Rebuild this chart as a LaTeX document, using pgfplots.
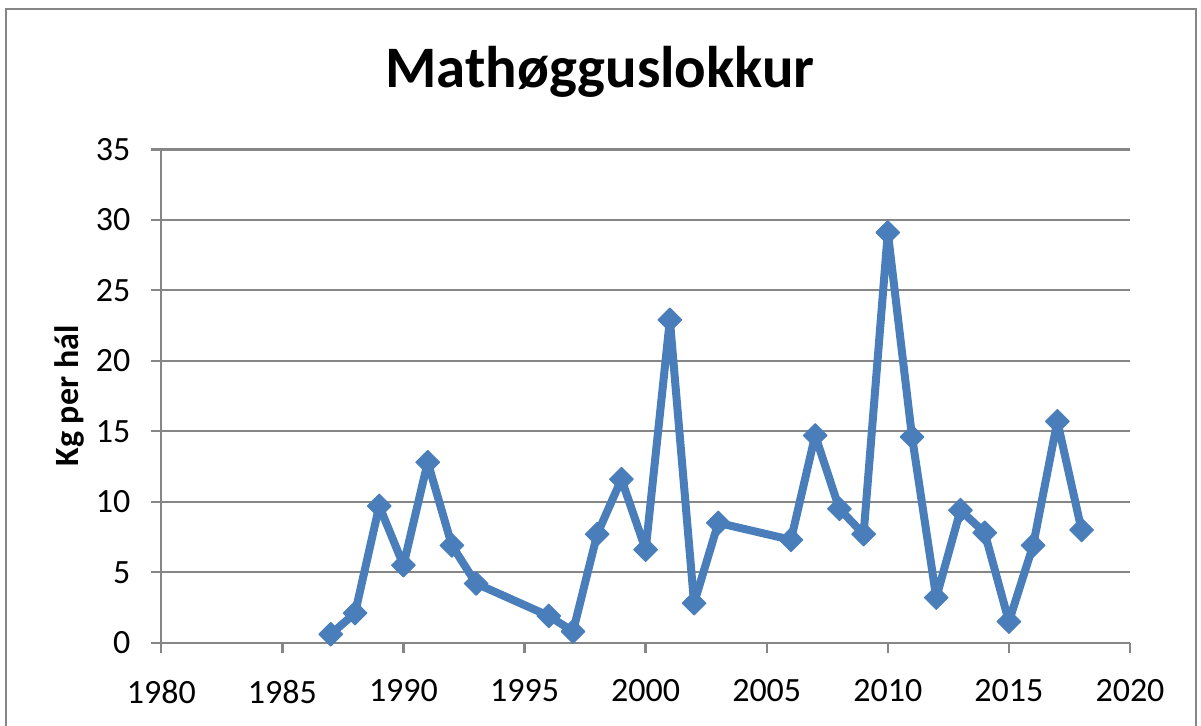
\documentclass[border=0pt]{standalone}
\usepackage{pgfplots}
\pgfplotsset{compat=1.18}
\usepackage{fontspec}
\setmainfont{Carlito}
\definecolor{gridgray}{RGB}{134,134,134}
\definecolor{xlblue}{RGB}{74,126,187}
\begin{document}
\begin{tikzpicture}
\useasboundingbox (0,0) rectangle (600.5pt,-362.5pt);
\draw[gridgray, line width=1.2pt] (3pt,-4.5pt) rectangle (598pt,-380pt);
\begin{axis}[
  at={(80.65pt,-321.35pt)}, anchor=south west,
  scale only axis, width=484.35pt, height=246.7pt,
  xmin=1980, xmax=2020, ymin=0, ymax=35,
  xtick={1980,1985,...,2020}, ytick={0,5,...,35},
  axis x line=bottom, axis y line=left,
  axis line style={gridgray, line width=1.2pt, -},
  tick style={gridgray, line width=1.2pt},
  tick align=outside, major tick length=5pt,
  ymajorgrids, grid style={gridgray, line width=1.2pt},
  xticklabel style={font=\fontsize{17}{20}\selectfont, yshift=-10pt},
  yticklabel style={font=\fontsize{17}{20}\selectfont, xshift=-7pt},
  /pgf/number format/assume math mode=true,
  /pgf/number format/1000 sep={},
  ylabel={Kg per hál},
  ylabel style={font=\bfseries\fontsize{17}{20}\selectfont, at={(axis description cs:-0.0953,0.5)}, anchor=center, rotate=0},
  title={Mathøgguslokkur},
  title style={font=\bfseries\fontsize{29.4}{34}\selectfont, at={(axis description cs:0.4529,1.10)}, anchor=base},
  clip=false,
]
\addplot[color=xlblue, line width=4pt, line join=round, mark=square*, mark size=4.2pt,
  mark options={rotate=45, line width=0.5pt, fill=xlblue, draw=xlblue}]
coordinates {
(1987,0.6) (1988,2.1) (1989,9.7) (1990,5.5) (1991,12.8) (1992,6.9) (1993,4.2)
(1996,1.9) (1997,0.8) (1998,7.7) (1999,11.6) (2000,6.6) (2001,22.9) (2002,2.8)
(2003,8.5) (2006,7.3) (2007,14.7) (2008,9.5) (2009,7.7) (2010,29.1) (2011,14.6)
(2012,3.2) (2013,9.4) (2014,7.8) (2015,1.5) (2016,6.9) (2017,15.7) (2018,8.0)
};
\end{axis}
\end{tikzpicture}
\end{document}
